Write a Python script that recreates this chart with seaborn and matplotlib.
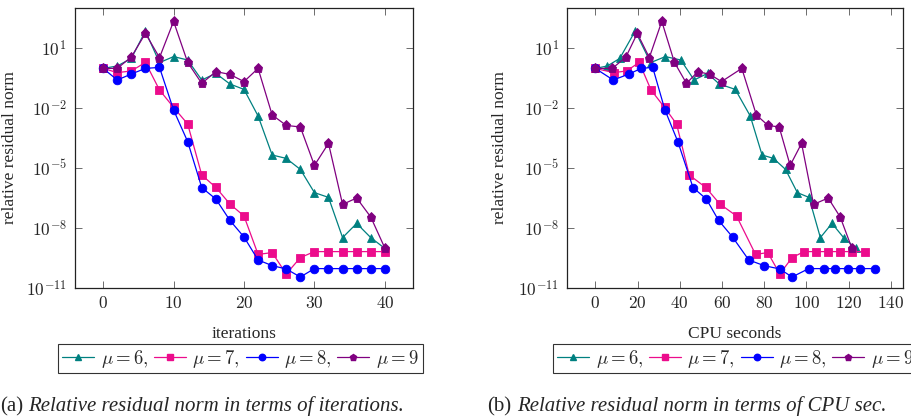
import numpy as np
import pandas as pd
import matplotlib
matplotlib.use("Agg")
import matplotlib.pyplot as plt
import seaborn as sns
from matplotlib.ticker import FixedLocator, FuncFormatter
from matplotlib.lines import Line2D

# ---------------- data ----------------
iterations = [0, 2, 4, 6, 8, 10, 12, 14, 16, 18, 20, 22, 24, 26, 28, 30, 32, 34, 36, 38, 40]

# CPU seconds at each iteration, per mu
cpu_mu6 = [0, 5.7, 11.6, 18.9, 26.2, 33.2, 40.5, 46.8, 53.2, 58.7, 66.3, 73.4, 79.0, 84.4, 90.1, 95.7, 101.2, 106.6, 112.1, 117.6, 123.5]
cpu_mu7 = [0, 8.7, 14.8, 20.8, 26.4, 32.8, 38.5, 44.5, 52.3, 59.0, 66.9, 75.9, 81.7, 87.4, 93.2, 98.9, 104.7, 110.4, 116.1, 121.8, 127.6]
cpu_mu8 = [0, 8.5, 16.0, 21.7, 27.2, 33.0, 39.1, 46.3, 52.6, 58.4, 65.0, 72.7, 79.9, 87.4, 93.2, 101.1, 108.2, 113.7, 119.7, 125.5, 132.6]
cpu_mu9 = [0, 8.1, 14.5, 19.9, 25.6, 31.5, 37.5, 43.2, 48.6, 54.3, 59.8, 69.4, 76.3, 81.8, 87.1, 92.3, 97.7, 103.4, 110.3, 116.0, 121.5]

# relative residual norm, stored as log10 exponents
log10_res_mu6 = [-0.02, 0.10, 0.48, 1.85, 0.27, 0.57, 0.40, -0.60, -0.27, -0.80, -1.07, -2.40, -4.35, -4.52, -5.07, -6.23, -6.47, -8.48, -7.77, -8.48, -9.02]
log10_res_mu7 = [-0.02, -0.23, -0.15, 0.28, -1.10, -1.97, -2.80, -5.35, -5.97, -6.80, -7.40, -9.32, -9.23, -10.30, -9.48, -9.18, -9.18, -9.18, -9.18, -9.18, -9.18]
log10_res_mu8 = [-0.02, -0.60, -0.30, -0.02, 0.03, -2.10, -3.68, -5.98, -6.55, -7.62, -8.45, -9.60, -9.88, -10.05, -10.45, -10.03, -10.03, -10.03, -10.03, -10.03, -10.03]
log10_res_mu9 = [-0.02, -0.02, 0.55, 1.73, 0.52, 2.33, 0.28, -0.77, -0.18, -0.32, -0.68, -0.02, -2.35, -2.87, -2.95, -4.87, -3.77, -6.82, -6.50, -7.45, -9.00]

mu_labels = [r"$\mu = 6,$", r"$\mu = 7,$", r"$\mu = 8,$", r"$\mu = 9$"]
y_ticks = [1e-11, 1e-8, 1e-5, 1e-2, 1e1]
x_ticks_left = [0, 10, 20, 30, 40]
x_ticks_right = [0, 20, 40, 60, 80, 100, 120, 140]

# ---------------- style ----------------
sns.set_style("ticks")
plt.rcParams["font.family"] = ["Liberation Serif", "DejaVu Serif"]
plt.rcParams["mathtext.fontset"] = "cm"

colors = ["#008080", "#EC0C8C", "#0000FF", "#800080"]
markers = ["^", "s", "o", "p"]
msizes = [6.0, 5.8, 6.2, 6.6]

series_res = [log10_res_mu6, log10_res_mu7, log10_res_mu8, log10_res_mu9]
series_cpu = [cpu_mu6, cpu_mu7, cpu_mu8, cpu_mu9]

fig = plt.figure(figsize=(9.12, 4.18), dpi=100)
axL = fig.add_axes([75/912, 1-288/418, 338/912, 280/418])
axR = fig.add_axes([567.3/912, 1-288/418, 335.4/912, 280/418])

def draw(ax, xs_list):
    for i in range(4):
        df = pd.DataFrame({"x": xs_list[i], "y": np.power(10.0, series_res[i])})
        sns.lineplot(data=df, x="x", y="y", ax=ax, color=colors[i], marker=markers[i],
                     markersize=msizes[i], markeredgecolor=colors[i], markeredgewidth=0.6,
                     linewidth=0.9, legend=False, sort=False, zorder=3 + i)

draw(axL, [iterations] * 4)
draw(axR, series_cpu)

tick_fs = 12.5
for ax, xt, xl, xlabel in [(axL, x_ticks_left, (-4, 44), "iterations"),
                           (axR, x_ticks_right, (-13.25, 145.6), "CPU seconds")]:
    ax.set_yscale("log")
    ax.set_ylim(1e-11, 1e3)
    ax.set_xlim(*xl)
    ax.yaxis.set_major_locator(FixedLocator(y_ticks))
    ax.yaxis.set_minor_locator(FixedLocator([]))
    ax.xaxis.set_major_locator(FixedLocator(xt))
    ax.yaxis.set_major_formatter(FuncFormatter(lambda v, p: r"$10^{%d}$" % int(round(np.log10(v)))))
    ax.xaxis.set_major_formatter(FuncFormatter(lambda v, p: r"$%d$" % int(round(v))))
    ax.tick_params(axis="both", which="both", direction="in", length=5, width=0.6,
                   color="#555555", top=True, right=True, labelsize=tick_fs, pad=6)
    for s in ax.spines.values():
        s.set_visible(True)
        s.set_linewidth(0.9)
        s.set_color("#222222")
    ax.set_xlabel(xlabel, fontsize=12.5)
    ax.set_ylabel("relative residual norm", fontsize=12.5)
    ax.xaxis.set_label_coords(0.5, -0.135)
    ax.set_facecolor("white")

axL.yaxis.set_label_coords(-0.168, 0.5)
axR.yaxis.set_label_coords(-0.178, 0.5)

# legends
handles = [Line2D([], [], color=colors[i], marker=markers[i], markersize=msizes[i] * 0.75,
                  markeredgecolor=colors[i], linewidth=0.9) for i in range(4)]
for cx in [(54 + 427) / 2 / 912, (549 + 922) / 2 / 912]:
    leg = fig.legend(handles, mu_labels, loc="center", bbox_to_anchor=(cx, 1 - 358.5/418),
                     ncol=4, fontsize=13.5, frameon=True, fancybox=False, edgecolor="black",
                     handlelength=1.7, handletextpad=0.35, columnspacing=0.3,
                     borderpad=0.2, borderaxespad=0)
    leg.get_frame().set_linewidth(0.8)

# captions
cap_y = 1 - 411/418
cap_fs = 15
fig.text(0/912, cap_y, "(a)", fontsize=cap_fs, va="baseline", ha="left")
fig.text(28/912, cap_y, "Relative residual norm in terms of iterations.", fontsize=cap_fs,
         style="italic", va="baseline", ha="left")
fig.text(487/912, cap_y, "(b)", fontsize=cap_fs, va="baseline", ha="left")
fig.text(517/912, cap_y, "Relative residual norm in terms of CPU sec.", fontsize=cap_fs,
         style="italic", va="baseline", ha="left")

fig.savefig("out.png", dpi=100, facecolor="white")
